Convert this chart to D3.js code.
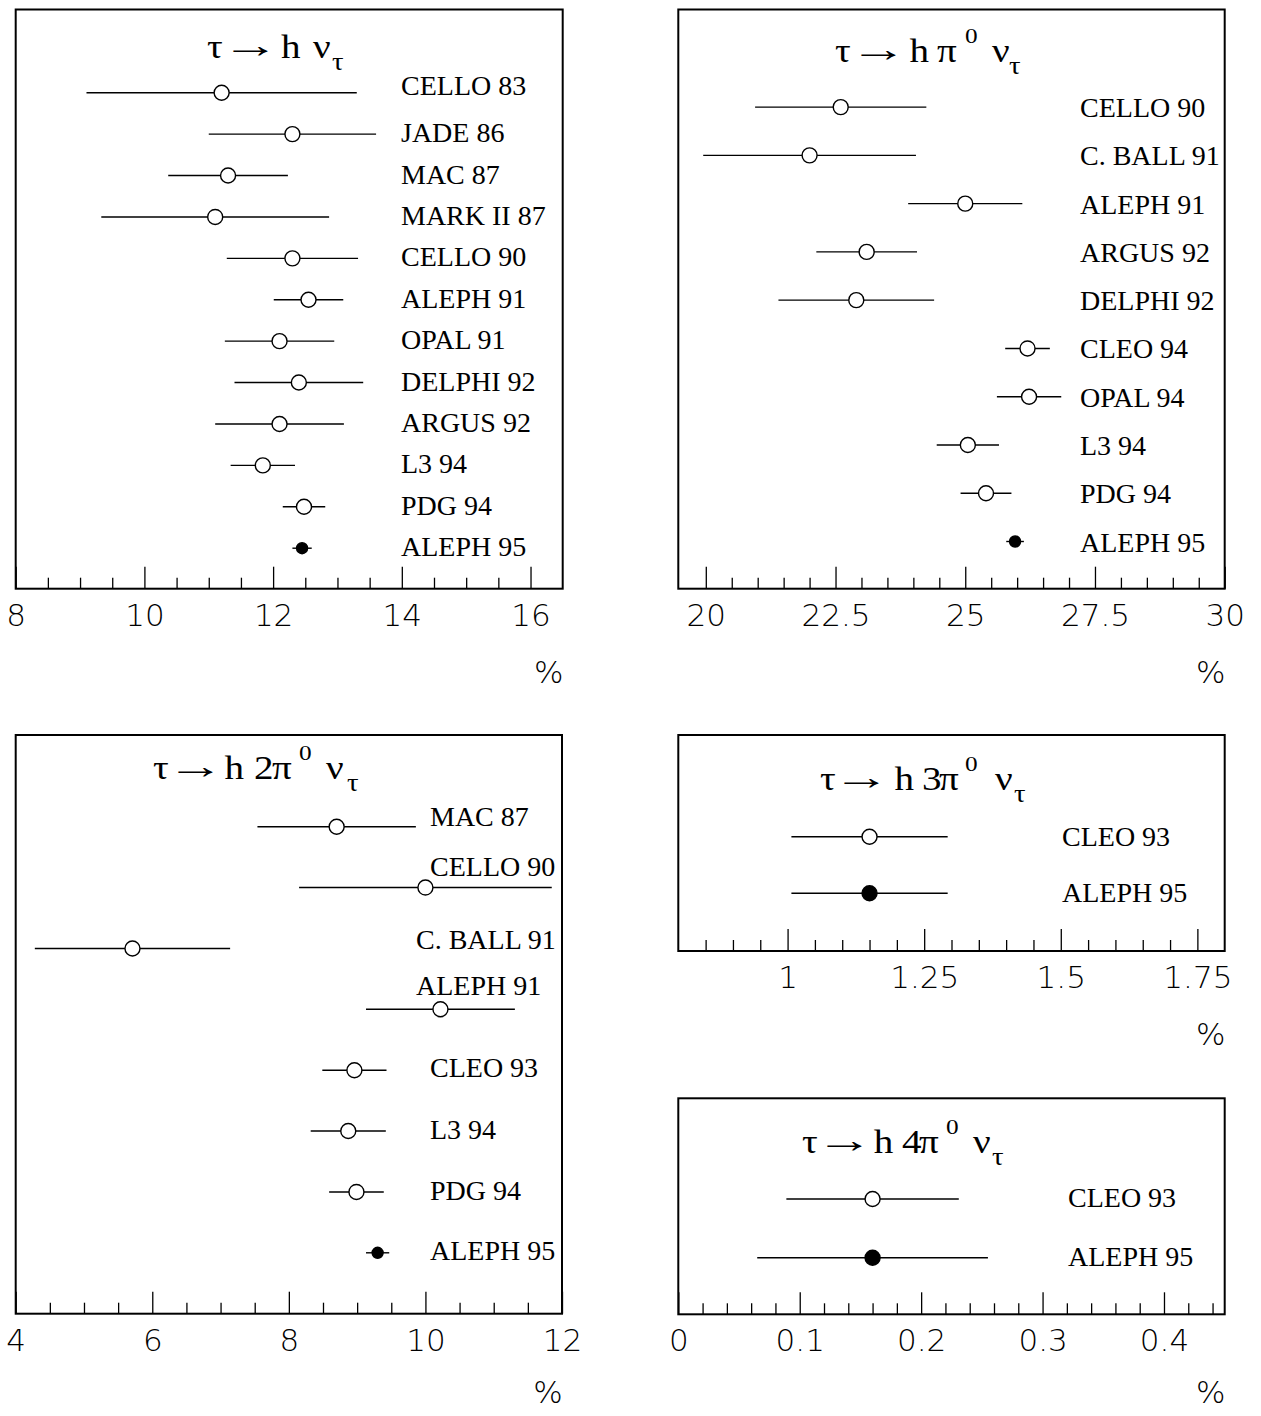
<!DOCTYPE html>
<html><head><meta charset="utf-8">
<script src="https://cdn.jsdelivr.net/npm/d3@7"></script>
<style>
html,body{margin:0;padding:0;background:#fff;}
svg{display:block;}
.lbl{font-family:"Liberation Serif","Times New Roman",serif;font-size:28px;fill:#000;}
.ttl{font-family:"Liberation Serif","Times New Roman",serif;fill:#000;}
.tk text{font-family:"DejaVu Sans",sans-serif;font-weight:200;font-size:31px;fill:#000;}
.pct{font-family:"DejaVu Sans",sans-serif;font-weight:200;font-size:31px;fill:#000;}
</style></head><body>
<svg id="c" width="1261" height="1416"></svg>
<script>
// ---------------- DATA ----------------
// Panel 1: tau -> h nu
const names1  = ["CELLO 83","JADE 86","MAC 87","MARK II 87","CELLO 90","ALEPH 91","OPAL 91","DELPHI 92","ARGUS 92","L3 94","PDG 94","ALEPH 95"];
const values1 = [11.2, 12.3, 11.3, 11.1, 12.3, 12.55, 12.1, 12.4, 12.1, 11.84, 12.48, 12.45];
const errors1 = [2.1, 1.3, 0.93, 1.77, 1.02, 0.54, 0.85, 1.0, 1.0, 0.5, 0.33, 0.15];
const ticks1  = [8, 10, 12, 14, 16];
const tickLabels1 = ["8","10","12","14","16"];

// Panel 2: tau -> h pi0 nu
const names2  = ["CELLO 90","C. BALL 91","ALEPH 91","ARGUS 92","DELPHI 92","CLEO 94","OPAL 94","L3 94","PDG 94","ALEPH 95"];
const values2 = [22.6, 22.0, 25.0, 23.1, 22.9, 26.2, 26.23, 25.05, 25.4, 25.96];
const errors2 = [1.65, 2.05, 1.1, 0.97, 1.5, 0.43, 0.62, 0.6, 0.49, 0.17];
const ticks2  = [20, 22.5, 25, 27.5, 30];
const tickLabels2 = ["20","22.5","25","27.5","30"];

// Panel 3: tau -> h 2pi0 nu
const names3  = ["MAC 87","CELLO 90","C. BALL 91","ALEPH 91","CLEO 93","L3 94","PDG 94","ALEPH 95"];
const values3 = [8.7, 10.0, 5.71, 10.22, 8.96, 8.87, 8.99, 9.3];
const errors3 = [1.16, 1.85, 1.43, 1.09, 0.47, 0.55, 0.4, 0.17];
const ticks3  = [4, 6, 8, 10, 12];
const tickLabels3 = ["4","6","8","10","12"];

// Panel 4: tau -> h 3pi0 nu
const names4  = ["CLEO 93","ALEPH 95"];
const values4 = [1.15, 1.15];
const errors4 = [0.143, 0.143];
const ticks4  = [1, 1.25, 1.5, 1.75];
const tickLabels4 = ["1","1.25","1.5","1.75"];

// Panel 5: tau -> h 4pi0 nu
const names5  = ["CLEO 93","ALEPH 95"];
const values5 = [0.16, 0.16];
const errors5 = [0.071, 0.095];
const ticks5  = [0, 0.1, 0.2, 0.3, 0.4];
const tickLabels5 = ["0","0.1","0.2","0.3","0.4"];

// title tokens: [text, kind]
const title1 = [["τ","n"],["→","a"],["h","n"],["ν","n"],["τ","sub"]];
const title2 = [["τ","n"],["→","a"],["h","n"],["π","n"],["0","sup"],["ν","n"],["τ","sub"]];
const title3 = [["τ","n"],["→","a"],["h","n"],["2","n"],["π","n"],["0","sup"],["ν","n"],["τ","sub"]];
const title4 = [["τ","n"],["→","a"],["h","n"],["3","n"],["π","n"],["0","sup"],["ν","n"],["τ","sub"]];
const title5 = [["τ","n"],["→","a"],["h","n"],["4","n"],["π","n"],["0","sup"],["ν","n"],["τ","sub"]];

// ---------------- LAYOUT ----------------
const panels = [
  {names:names1, values:values1, errors:errors1, ticks:ticks1, tickLabels:tickLabels1,
   domain:[8,16.5], minors:d3.range(17,33).map(k=>k/2),
   left:15.7, right:562.7, top:9.5, axisY:588.7, yFirst:92.7, yLast:548.2,
   labelX:401, labelDy:[2,8,8,8,8,8,8,8,8,8,8,8], smallFilled:true,
   title:title1, titleX:207, titleY:57.6, titleOff:[0,26,74,106,125]},
  {names:names2, values:values2, errors:errors2, ticks:ticks2, tickLabels:tickLabels2,
   domain:[19.47,30], minors:d3.range(40,60).map(k=>k/2),
   left:678.3, right:1224.7, top:9.5, axisY:588.7, yFirst:107.1, yLast:541.5,
   labelX:1080, labelDy:[9.5,9.5,10,10,10,10,10,10,10,10], smallFilled:true,
   title:title2, titleX:835, titleY:62, titleOff:[0,26,74.5,102,130,157,174]},
  {names:names3, values:values3, errors:errors3, ticks:ticks3, tickLabels:tickLabels3,
   domain:[4,12], minors:d3.range(9,24).map(k=>k/2),
   left:15.7, right:562, top:735, axisY:1313.7, yFirst:826.7, yLast:1252.8,
   labelXs:[430,430,416,416,430,430,430,430], labelDy:[-1,-12,1,-14,7,8,8,7], smallFilled:true,
   title:title3, titleX:153, titleY:779.3, titleOff:[0,25,71.4,101,119,146,173,194]},
  {names:names4, values:values4, errors:errors4, ticks:ticks4, tickLabels:tickLabels4,
   domain:[0.8,1.8], minors:d3.range(17,36).map(k=>k/20),
   left:678.3, right:1224.7, top:735, axisY:951, yFirst:836.7, yLast:893.3,
   labelX:1062, labelDy:[9,9], smallFilled:false,
   title:title4, titleX:820, titleY:790, titleOff:[0,24,74.5,102,119,145,175,194]},
  {names:names5, values:values5, errors:errors5, ticks:ticks5, tickLabels:tickLabels5,
   domain:[0,0.45], minors:d3.range(1,23).filter(k=>k%5!==0).map(k=>k/50),
   left:678.3, right:1224.7, top:1098.3, axisY:1314.3, yFirst:1199, yLast:1257.7,
   labelX:1068, labelDy:[8,8], smallFilled:false,
   title:title5, titleX:802, titleY:1153.3, titleOff:[0,25,71.8,100,117,144,171,190]}
];

const svg = d3.select("#c");
const SX = 1.15; // horizontal stretch of the title glyphs
const SA = 1.6;  // horizontal stretch of the arrow
const ARROW_SHIFT = -11; // compensate the arrow glyph's left side bearing

panels.forEach(p => {
  const g = svg.append("g");
  const x = d3.scaleLinear().domain(p.domain).range([p.left, p.right]);
  const y = d3.scalePoint().domain(p.names).range([p.yFirst, p.yLast]);
  const isMajor = v => p.ticks.some(t => Math.abs(t - v) < 1e-9);
  const minors = p.minors.filter(v => !isMajor(v) && v > p.domain[0] && v < p.domain[1]);

  // frame
  g.append("rect").attr("x", p.left).attr("y", p.top)
    .attr("width", p.right - p.left).attr("height", p.axisY - p.top)
    .attr("fill","none").attr("stroke","#000").attr("stroke-width",2);

  // minor ticks
  const gMin = g.append("g").attr("class","tk").attr("transform",`translate(0,${p.axisY})`)
    .call(d3.axisBottom(x).tickValues(minors).tickSizeInner(-11).tickSizeOuter(0).tickFormat(""));
  gMin.select(".domain").remove();
  gMin.selectAll("line").attr("stroke","#000").attr("stroke-width",1.3);
  gMin.selectAll("text").remove();

  // major ticks + labels
  const gMaj = g.append("g").attr("class","tk").attr("transform",`translate(0,${p.axisY})`)
    .call(d3.axisBottom(x).tickValues(p.ticks).tickSizeInner(-22).tickSizeOuter(0)
      .tickFormat(d => p.tickLabels[p.ticks.indexOf(d)]));
  gMaj.select(".domain").remove();
  gMaj.selectAll("line").attr("stroke","#000").attr("stroke-width",1.3);
  gMaj.selectAll("text").attr("y",37).attr("dy",null).attr("fill","#000");

  // % label
  g.append("text").attr("class","pct").attr("x", p.right - 14)
    .attr("y", Math.min(p.axisY + 94, 1403))
    .attr("text-anchor","middle").text("%");

  // error bars
  const rows = p.names.map((n,i) => ({name:n, v:p.values[i], e:p.errors[i], i}));
  g.selectAll("line.err").data(rows).enter().append("line").attr("class","err")
    .attr("x1", d => x(d.v - d.e)).attr("x2", d => x(d.v + d.e))
    .attr("y1", d => y(d.name)).attr("y2", d => y(d.name))
    .attr("stroke","#000").attr("stroke-width",1.4);

  g.selectAll("circle.pt").data(rows).enter().append("circle").attr("class","pt")
    .attr("cx", d => x(d.v)).attr("cy", d => y(d.name))
    .attr("r", d => d.name === "ALEPH 95" ? (p.smallFilled ? 5.5 : 7.5) : 7.5)
    .attr("fill", d => d.name === "ALEPH 95" ? "#000" : "#fff")
    .attr("stroke","#000").attr("stroke-width",1.4);

  // labels
  g.selectAll("text.lbl").data(rows).enter().append("text").attr("class","lbl")
    .attr("x", d => p.labelXs ? p.labelXs[d.i] : p.labelX)
    .attr("y", d => y(d.name) + p.labelDy[d.i])
    .text(d => d.name);

  // title
  const t = g.append("text").attr("class","ttl")
    .attr("transform", `translate(${p.titleX},${p.titleY}) scale(${SX},1)`);
  p.title.forEach((tok, k) => {
    const [txt, kind] = tok;
    if (kind === "a") {
      g.append("text").attr("class","ttl")
        .attr("transform", `translate(${p.titleX + p.titleOff[k] + ARROW_SHIFT},${p.titleY - 1}) scale(${SA},1)`)
        .attr("font-size", 36).text(txt);
      return;
    }
    const ts = t.append("tspan").attr("x", p.titleOff[k] / SX).text(txt);
    if (kind === "sup") ts.attr("y", -19).attr("font-size", 22);
    else if (kind === "sub") ts.attr("y", 12).attr("font-size", 25);
    else ts.attr("y", 0).attr("font-size", 34);
  });
});
</script>
</body></html>
